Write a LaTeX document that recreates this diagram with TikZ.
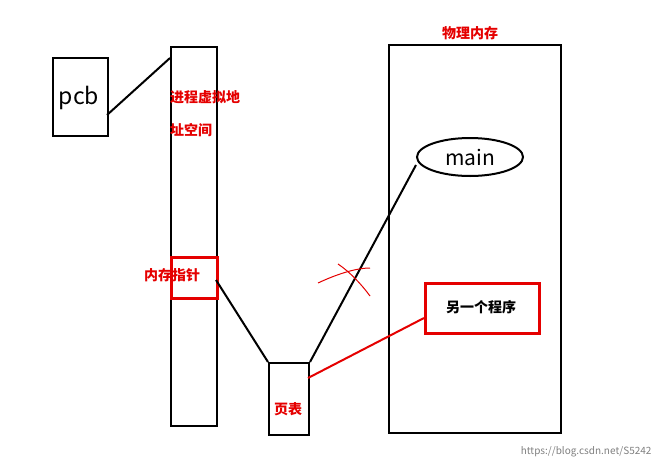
\documentclass[tikz,border=0pt]{standalone}
\usepackage{fontspec}
\setmainfont{Noto Sans CJK SC}
\usetikzlibrary{shapes.geometric}
\begin{document}
\begin{tikzpicture}[x=1pt,y=-1pt,
  box/.style={draw=black,line width=2pt},
  rbox/.style={draw=red!90!black,line width=2.6pt},
  rt/.style={text=red!90!black,font=\bfseries\fontsize{14}{16}\selectfont,inner sep=0pt},
  ln/.style={line width=2pt}]
\path[use as bounding box,fill=white] (0,0) rectangle (660,466);
\node[box,minimum width=55pt,minimum height=78pt,anchor=north west,inner sep=0pt] (pcb) at (52,57) {};
\node[font=\fontsize{23}{24}\selectfont] at (79,98) {pcb};
\node[box,minimum width=46pt,minimum height=379pt,anchor=north west,inner sep=0pt] (vas) at (170,46) {};
\coordinate (pe) at (107,115);
\draw[ln] (pe) -- (vas.north west |- 0,58);
\node[rt,anchor=west] (t1) at (170,97) {进程虚拟地};
\node[rt,anchor=west] (t2) at (170,130) {址空间};
\node[rbox,minimum width=46pt,minimum height=41pt,anchor=north west,inner sep=0pt] (ptr) at (170,256) {};
\node[rt] (ptrt) at (172,275) {内存指针};
\node[box,minimum width=40pt,minimum height=72pt,anchor=north west,inner sep=0pt] (pt) at (268,362) {};
\node[rt] (ptt) at (288,409) {页表};
\node[box,minimum width=172pt,minimum height=388pt,anchor=north west,inner sep=0pt] (mem) at (388,44) {};
\node[rt] (memt) at (470,33) {物理内存};
\node[draw,ellipse,line width=2pt,minimum width=106pt,minimum height=38pt,inner sep=0pt,font=\fontsize{21}{22}\selectfont] (main) at (470,157) {main};
\node[rbox,minimum width=114pt,minimum height=50pt,anchor=north west,inner sep=0pt] (other) at (424,282) {};
\node[font=\bfseries\fontsize{14}{16}\selectfont] at (481,307) {另一个程序};
\draw[ln] (216,280) -- (pt.north west);
\draw[ln] (pt.north east) -- (main.west |- 0,165) ;
\draw[ln,red!90!black] (308,378) -- (424,318);
\draw[red!90!black,line width=1pt] (318,283) .. controls (335,275) and (355,268) .. (370,268);
\draw[red!90!black,line width=1pt] (338,264) .. controls (350,272) and (362,285) .. (370,296);
\node[text=gray,font=\fontsize{10}{11}\selectfont,anchor=east] at (655,452) {https://blog.csdn.net/S5242};
\end{tikzpicture}
\end{document}
